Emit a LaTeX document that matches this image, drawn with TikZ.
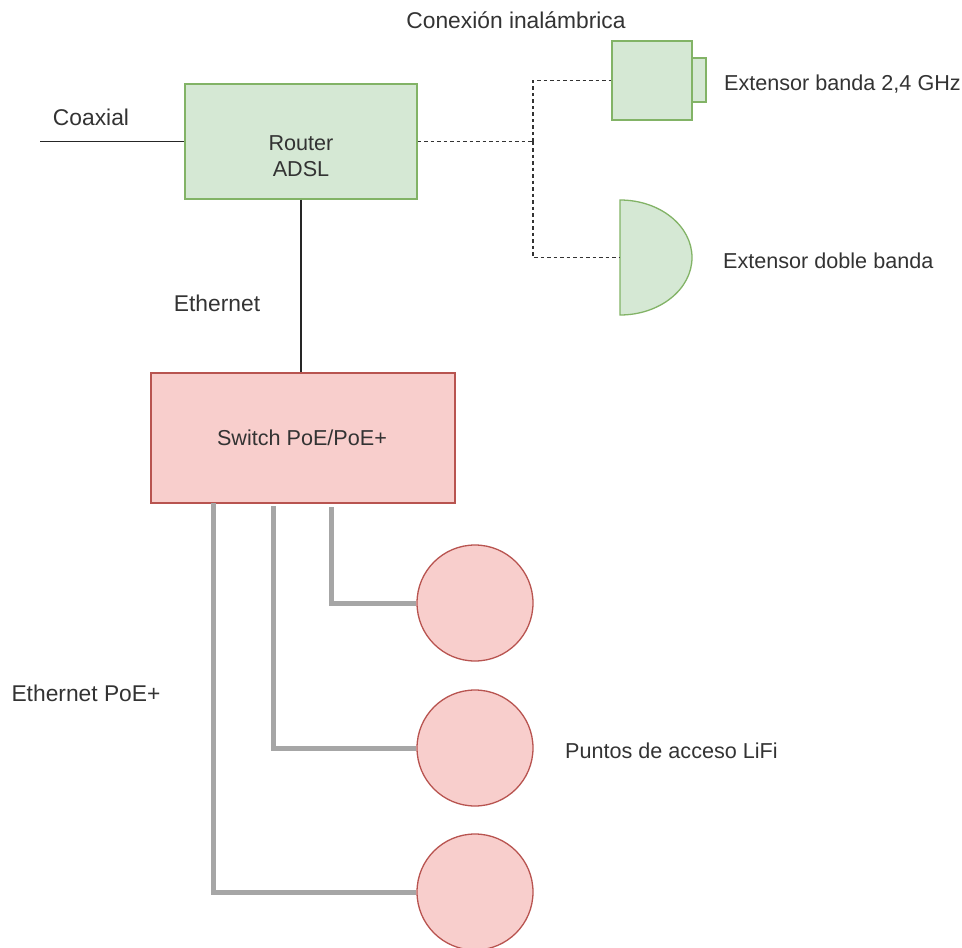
\documentclass[tikz,border=0pt]{standalone}
\usepackage{fontspec}
\setmainfont{Liberation Sans}
\definecolor{gfill}{HTML}{D5E8D4}
\definecolor{gdraw}{HTML}{82B366}
\definecolor{rfill}{HTML}{F8CECC}
\definecolor{rdraw}{HTML}{B85450}
\definecolor{poe}{HTML}{A6A6A6}
\definecolor{txt}{HTML}{333333}
\begin{document}
\begin{tikzpicture}[x=1pt,y=-1pt,
  font=\fontsize{21.6}{26}\selectfont, text=txt,
  gbox/.style={draw=gdraw, fill=gfill, line width=1.3pt, inner sep=0pt},
  rbox/.style={draw=rdraw, fill=rfill, line width=1.3pt, inner sep=0pt},
  lbl/.style={inner sep=0pt, anchor=base},
  lblw/.style={inner sep=0pt, anchor=base west},
  elbl/.style={inner sep=0pt, anchor=base, font=\fontsize{22.8}{27}\selectfont},
  wire/.style={line width=1.4pt, draw=black!85},
  wifi/.style={line width=1.4pt, dash pattern=on 3.5pt off 3pt, draw=black!80},
  poeline/.style={line width=5pt, draw=poe}]
\useasboundingbox (0,0) rectangle (962,948);

% Router
\node[gbox, minimum width=232pt, minimum height=115pt] (router) at (301,141.5) {};
\node[lbl] (routert1) at (301,150) {Router};
\node[lbl] (routert2) at (301,176) {ADSL};

% Switch
\node[rbox, minimum width=304pt, minimum height=130pt] (switch) at (303,438) {};
\node[lbl] (switcht) at (302,445) {Switch PoE/PoE+};

% Extensor 1
\node[gbox, minimum width=14pt, minimum height=44pt] (ext1b) at (699,80) {};
\node[gbox, minimum width=80pt, minimum height=79pt] (ext1) at (652,80.5) {};

% Extensor 2
\coordinate (ext2w) at (620,257.5);
\draw[draw=gdraw, fill=gfill, line width=1.3pt] (620,315) -- (620,200)
  arc[start angle=-90, end angle=90, x radius=72, y radius=57.5] -- cycle;

% Access points
\node[rbox, circle, minimum size=116pt] (ap1) at (475,603) {};
\node[rbox, circle, minimum size=116pt] (ap2) at (475,748) {};
\node[rbox, circle, minimum size=116pt] (ap3) at (475,892) {};

% Connectors
\coordinate (coaxin) at (40,141.5);
\draw[wire] (coaxin) -- (router.west);
\draw[wire] (router.south) -- (router.south |- switch.north);
\coordinate (wj) at (533,141.5);
\draw[wifi] (router.east) -- (wj);
\draw[wifi] (wj) |- (ext1.west);
\draw[wifi] (wj) |- (ext2w);

\coordinate (p1) at (331,507);
\coordinate (p2) at (273,506);
\coordinate (p3) at (213,503);
\draw[poeline] (p1) |- (ap1.west);
\draw[poeline] (p2) |- (ap2.west);
\draw[poeline] (p3) |- (ap3.west);

% Labels
\node[elbl] (lconex) at (516,28) {Conexión inalámbrica};
\node[elbl] (lcoax) at (91,125) {Coaxial};
\node[elbl] (leth) at (217,311) {Ethernet};
\node[lblw] (lext1) at (724,90) {Extensor banda 2,4 GHz};
\node[lblw] (lext2) at (723,268) {Extensor doble banda};
\node[elbl] (lpoe) at (86,701) {Ethernet PoE+};
\node[lblw] (llifi) at (565,758) {Puntos de acceso LiFi};
\end{tikzpicture}
\end{document}
